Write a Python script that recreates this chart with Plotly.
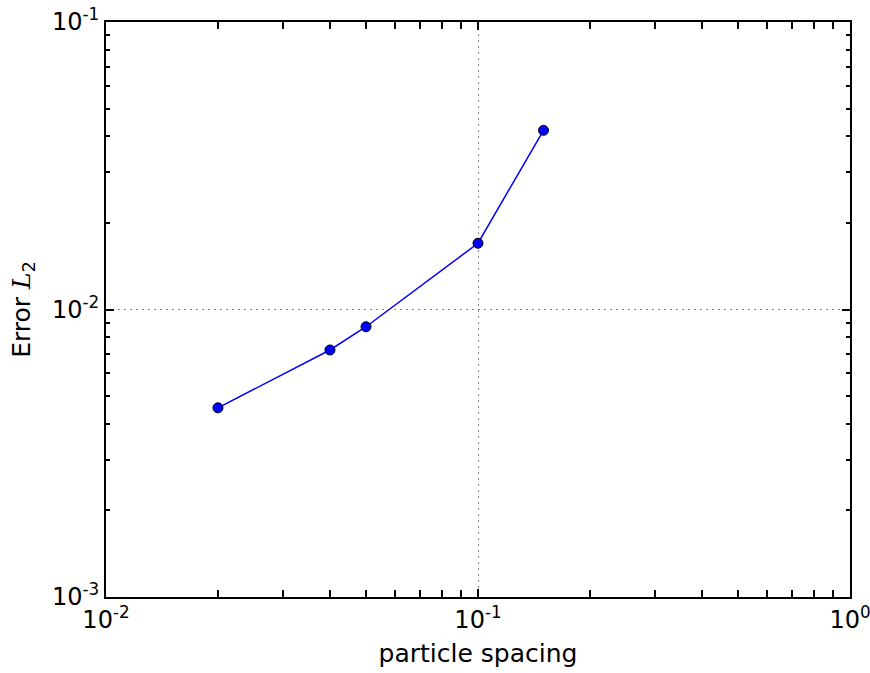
import plotly.graph_objects as go

spacing = [0.02, 0.04, 0.05, 0.1, 0.15]
error_l2 = [0.00455, 0.00723, 0.00871, 0.0170, 0.0420]

x_major = [0.01, 0.1, 1]
x_major_text = ["10<sup>-2</sup>", "10<sup>-1</sup>", "10<sup>0</sup>"]
y_major = [0.001, 0.01, 0.1]
y_major_text = ["10<sup>-3</sup>", "10<sup>-2</sup>", "10<sup>-1</sup>"]

x_minor = [m * d for d in (0.01, 0.1) for m in range(2, 10)]
y_minor = [m * d for d in (0.001, 0.01) for m in range(2, 10)]

font = "DejaVu Sans, Liberation Sans, sans-serif"

fig = go.Figure()
fig.add_trace(go.Scatter(
    x=spacing, y=error_l2, mode="lines+markers",
    line=dict(color="#0000ff", width=1.5),
    marker=dict(color="#0000ff", size=10, line=dict(color="black", width=1)),
    showlegend=False,
))

axis_common = dict(
    type="log", showline=True, linecolor="black", linewidth=2,
    mirror="allticks", ticks="inside", tickcolor="black", tickwidth=2,
    ticklen=8, tickmode="array", automargin=False, ticklabeloverflow="allow",
    showgrid=True, gridcolor="#888888", griddash="2px,4px", gridwidth=1,
    zeroline=False, tickfont=dict(size=24, color="black", family=font),
)

fig.update_xaxes(
    **axis_common, range=[-2, 0], tickvals=x_major, ticktext=x_major_text,
    minor=dict(tickvals=x_minor, ticks="inside", ticklen=7, tickwidth=2,
               tickcolor="black", showgrid=False),
    title=dict(text="particle spacing", font=dict(size=25, color="black", family=font),
               standoff=12),
)
fig.update_yaxes(
    **axis_common, range=[-3, -1], tickvals=y_major, ticktext=y_major_text,
    minor=dict(tickvals=y_minor, ticks="inside", ticklen=4, tickwidth=2,
               tickcolor="black", showgrid=False),
    title=dict(text="Error <span style='font-family:DejaVu Serif'><i>L</i></span><sub>2</sub>",
               font=dict(size=25, color="black", family=font),
               standoff=14),
)

fig.update_layout(
    width=870, height=673,
    margin=dict(l=106, r=20, t=22, b=76),
    plot_bgcolor="white", paper_bgcolor="white",
    font=dict(family=font, color="black"),
)

fig.write_html("out.html")
